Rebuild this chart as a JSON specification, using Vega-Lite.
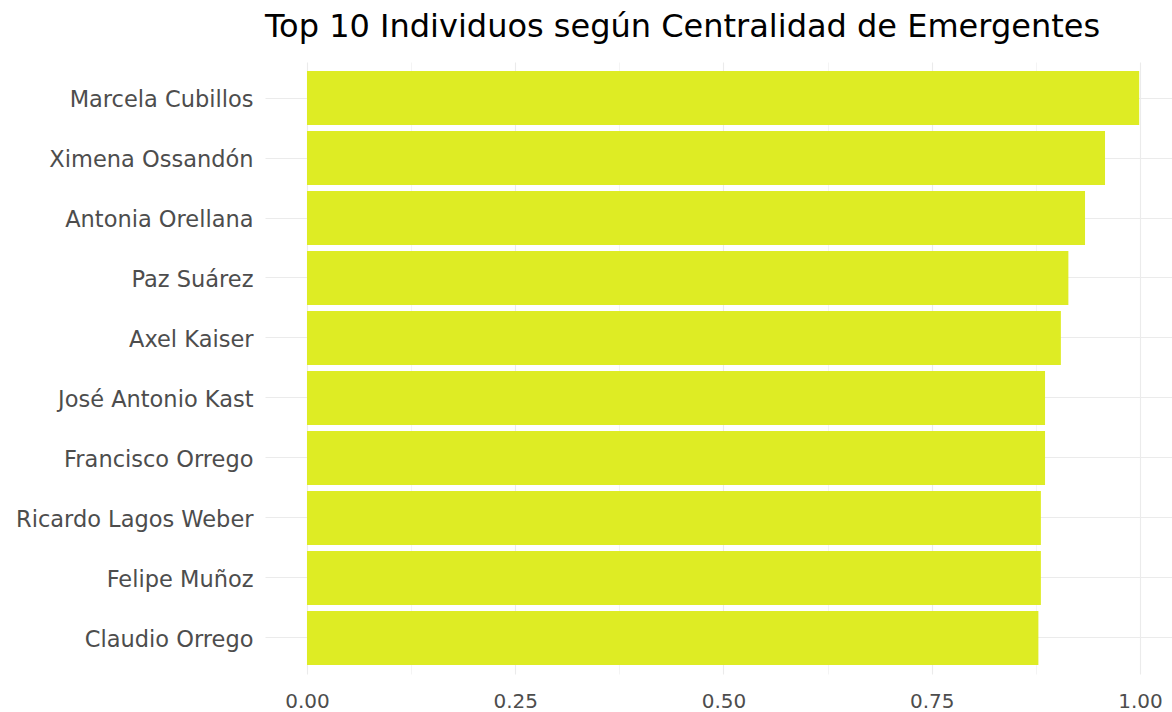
{
  "$schema": "https://vega.github.io/schema/vega-lite/v6.json",
  "autosize": {"type": "none"},
  "padding": {"left": 265, "top": 62, "right": 0, "bottom": 38},
  "width": 907,
  "height": 612,
  "background": "white",
  "title": {
    "text": "Top 10 Individuos según Centralidad de Emergentes",
    "anchor": "start",
    "frame": "group",
    "font": "DejaVu Sans",
    "fontSize": 32,
    "fontWeight": "normal",
    "color": "#000000",
    "offset": 18
  },
  "config": {
    "view": {"stroke": null},
    "axis": {
      "labelFont": "DejaVu Sans",
      "labelColor": "#4D4D4D",
      "titleFont": "DejaVu Sans",
      "domain": false,
      "ticks": false,
      "gridColor": "#EBEBEB",
      "labelLimit": 400
    }
  },
  "data": {
    "values": [
      {"nombre": "Marcela Cubillos", "centralidad": 0.999},
      {"nombre": "Ximena Ossandón", "centralidad": 0.958},
      {"nombre": "Antonia Orellana", "centralidad": 0.934},
      {"nombre": "Paz Suárez", "centralidad": 0.914},
      {"nombre": "Axel Kaiser", "centralidad": 0.905},
      {"nombre": "José Antonio Kast", "centralidad": 0.886},
      {"nombre": "Francisco Orrego", "centralidad": 0.886},
      {"nombre": "Ricardo Lagos Weber", "centralidad": 0.881},
      {"nombre": "Felipe Muñoz", "centralidad": 0.881},
      {"nombre": "Claudio Orrego", "centralidad": 0.878}
    ]
  },
  "layer": [
    {
      "mark": {"type": "bar", "opacity": 0},
      "encoding": {
        "y": {
          "field": "nombre",
          "type": "nominal",
          "sort": {"field": "centralidad", "order": "descending"},
          "scale": {"paddingInner": 0.1, "paddingOuter": 0.15},
          "axis": {
            "title": null,
            "grid": true,
            "gridWidth": 1.1,
            "bandPosition": 0.5,
            "labelFontSize": 22.5,
            "labelPadding": 12,
            "labelOffset": 2
          }
        },
        "x": {
          "field": "centralidad",
          "type": "quantitative",
          "scale": {"domain": [-0.0504, 1.0384], "nice": false, "zero": false},
          "axis": {
            "orient": "bottom",
            "values": [0.125, 0.375, 0.625, 0.875],
            "labels": false,
            "grid": true,
            "gridWidth": 0.55,
            "title": null
          }
        },
        "x2": {"datum": 0}
      }
    },
    {
      "mark": {"type": "bar", "color": "#DEEC24"},
      "encoding": {
        "y": {
          "field": "nombre",
          "type": "nominal",
          "sort": {"field": "centralidad", "order": "descending"},
          "scale": {"paddingInner": 0.1, "paddingOuter": 0.15},
          "axis": {
            "title": null,
            "grid": true,
            "gridWidth": 1.1,
            "bandPosition": 0.5,
            "labelFontSize": 22.5,
            "labelPadding": 12,
            "labelOffset": 2
          }
        },
        "x": {
          "field": "centralidad",
          "type": "quantitative",
          "scale": {"domain": [-0.0504, 1.0384], "nice": false, "zero": false},
          "axis": {
            "orient": "bottom",
            "values": [0, 0.25, 0.5, 0.75, 1],
            "format": ".2f",
            "grid": true,
            "gridWidth": 1.1,
            "labelFontSize": 20,
            "labelPadding": 17,
            "title": null
          }
        },
        "x2": {"datum": 0}
      }
    }
  ],
  "resolve": {"axis": {"x": "independent"}}
}
